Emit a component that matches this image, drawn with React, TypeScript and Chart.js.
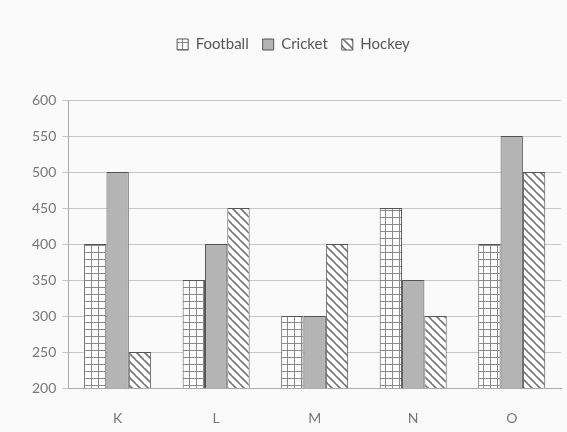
import React, { useEffect, useRef } from "react";
import { Chart, registerables } from "chart.js";

Chart.register(...registerables);

const categories = ["K", "L", "M", "N", "O"];
const football = [400, 350, 300, 450, 400];
const cricket = [500, 400, 300, 350, 550];
const hockey = [250, 450, 400, 300, 500];
const yTicks = [200, 250, 300, 350, 400, 450, 500, 550, 600];

function gridPattern(): CanvasPattern | string {
  const c = document.createElement("canvas");
  c.width = 7;
  c.height = 7;
  const g = c.getContext("2d");
  if (!g) return "#fff";
  g.fillStyle = "#ffffff";
  g.fillRect(0, 0, 7, 7);
  g.strokeStyle = "#8a8a8a";
  g.lineWidth = 1;
  g.beginPath();
  g.moveTo(0.5, 0);
  g.lineTo(0.5, 7);
  g.moveTo(0, 0.5);
  g.lineTo(7, 0.5);
  g.stroke();
  return g.createPattern(c, "repeat") as CanvasPattern;
}

function diagPattern(): CanvasPattern | string {
  const s = 8;
  const c = document.createElement("canvas");
  c.width = s;
  c.height = s;
  const g = c.getContext("2d");
  if (!g) return "#fff";
  g.fillStyle = "#ffffff";
  g.fillRect(0, 0, s, s);
  g.strokeStyle = "#777777";
  g.lineWidth = 1.6;
  g.beginPath();
  g.moveTo(0, 0);
  g.lineTo(s, s);
  g.moveTo(-s, 0);
  g.lineTo(0, s);
  g.moveTo(0, -s);
  g.lineTo(s * 2, s);
  g.stroke();
  return g.createPattern(c, "repeat") as CanvasPattern;
}

const legendGap = {
  id: "legendGap",
  beforeInit(chart: any) {
    const orig = chart.legend.fit;
    chart.legend.fit = function () {
      orig.bind(this)();
      this.height += 38;
    };
  },
};

export default function App() {
  const ref = useRef<HTMLCanvasElement | null>(null);
  useEffect(() => {
    document.body.style.margin = "0";
    if (!ref.current) return;
    const font = "Lato, 'Open Sans', sans-serif";
    const chart = new Chart(ref.current, {
      type: "bar",
      data: {
        labels: categories,
        datasets: [
          { label: "Football", data: football, backgroundColor: gridPattern(), borderColor: "#555", borderWidth: 1 },
          { label: "Cricket", data: cricket, backgroundColor: "#b4b4b4", borderColor: "#555", borderWidth: 1 },
          { label: "Hockey", data: hockey, backgroundColor: diagPattern(), borderColor: "#555", borderWidth: 1 },
        ],
      },
      plugins: [legendGap],
      options: {
        animation: false,
        responsive: false,
        maintainAspectRatio: false,
        layout: { padding: { left: 26, right: 6, top: 23, bottom: 4 } },
        datasets: { bar: { categoryPercentage: 0.68, barPercentage: 1 } },
        plugins: {
          legend: {
            position: "top",
            labels: {
              boxWidth: 11,
              boxHeight: 11,
              padding: 14,
              color: "#555",
              font: { family: font, size: 15 },
            },
          },
          tooltip: { enabled: false },
        },
        scales: {
          x: {
            grid: { display: false, drawTicks: false },
            border: { display: true, color: "#aaa" },
            ticks: { color: "#777", font: { family: font, size: 14 }, padding: 22 },
            afterFit: (axis: any) => {
              axis.height = 40;
            },
          },
          y: {
            min: 200,
            max: 600,
            afterBuildTicks: (axis: any) => {
              axis.ticks = yTicks.map((v) => ({ value: v }));
            },
            grid: { color: "#c8c8c8", drawTicks: true, tickLength: 6 },
            border: { display: true, color: "#aaa" },
            ticks: { color: "#777", font: { family: font, size: 14 }, padding: 6 },
          },
        },
      },
    });
    return () => chart.destroy();
  }, []);
  return (
    <div style={{ width: 567, height: 432, background: "#fafafa" }}>
      <canvas ref={ref} width={567} height={432} />
    </div>
  );
}
